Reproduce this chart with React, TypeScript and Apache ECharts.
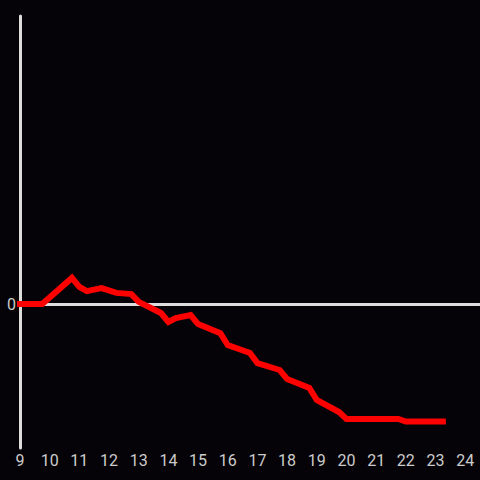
import React, { useEffect, useRef } from "react";
import * as echarts from "echarts";

// hour of day
const hours = [9, 9.75, 10.75, 11, 11.25, 11.75, 12.25, 12.75, 13, 13.75, 14, 14.25, 14.75, 15, 15.75, 16, 16.75, 17, 17.75, 18, 18.75, 19, 19.75, 20, 21.75, 22, 23.25];
// values (relative units)
const values = [0, 0, 8.7, 5.7, 4.3, 5.3, 3.7, 3.3, 0.7, -3, -6, -4.7, -3.7, -6.7, -9.7, -13.7, -16.3, -19.7, -22, -25, -28, -32, -36, -38.3, -38.3, -39.2, -39.2];
const xTicks = [9, 10, 11, 12, 13, 14, 15, 16, 17, 18, 19, 20, 21, 22, 23, 24];
const yLabels = [0];

export default function App() {
  const ref = useRef<HTMLDivElement>(null);
  useEffect(() => {
    if (!ref.current) return;
    const chart = echarts.init(ref.current, undefined, { renderer: "svg", width: 480, height: 480 });
    const data = hours.map((h, i) => [h, values[i]]);
    chart.setOption({
      animation: false,
      backgroundColor: "#050307",
      textStyle: { fontFamily: "Roboto, sans-serif" },
      grid: { left: 20, width: 465, top: 16, bottom: 32, containLabel: false },
      xAxis: {
        type: "value",
        min: 9,
        max: 24.5,
        interval: 1,
        axisLine: { show: false },
        axisTick: { show: false },
        splitLine: { show: false },
        axisLabel: {
          color: "#cccccc",
          fontSize: 16,
          margin: 4,
          showMaxLabel: false,
          formatter: (v: number) => (xTicks.includes(v) ? String(v) : ""),
        },
      },
      yAxis: {
        type: "value",
        min: -48,
        max: 96,
        interval: 48,
        axisLine: { show: true, onZero: false, lineStyle: { color: "#dddddd", width: 3 } },
        axisTick: { show: false },
        splitLine: { show: false },
        axisLabel: {
          color: "#cccccc",
          fontSize: 16,
          margin: 4,
          formatter: (v: number) => (yLabels.includes(v) ? String(v) : ""),
        },
      },
      series: [
        {
          type: "line",
          data,
          symbol: "none",
          lineStyle: { color: "#ff0000", width: 6, cap: "square", join: "miter" },
          z: 3,
          markLine: {
            silent: true,
            symbol: "none",
            label: { show: false },
            lineStyle: { color: "#dddddd", width: 3, type: "solid" },
            data: [{ yAxis: 0 }],
            z: 1,
          },
        },
      ],
    });
    return () => chart.dispose();
  }, []);
  return <div ref={ref} style={{ width: 480, height: 480, position: "fixed", left: 0, top: 0 }} />;
}
